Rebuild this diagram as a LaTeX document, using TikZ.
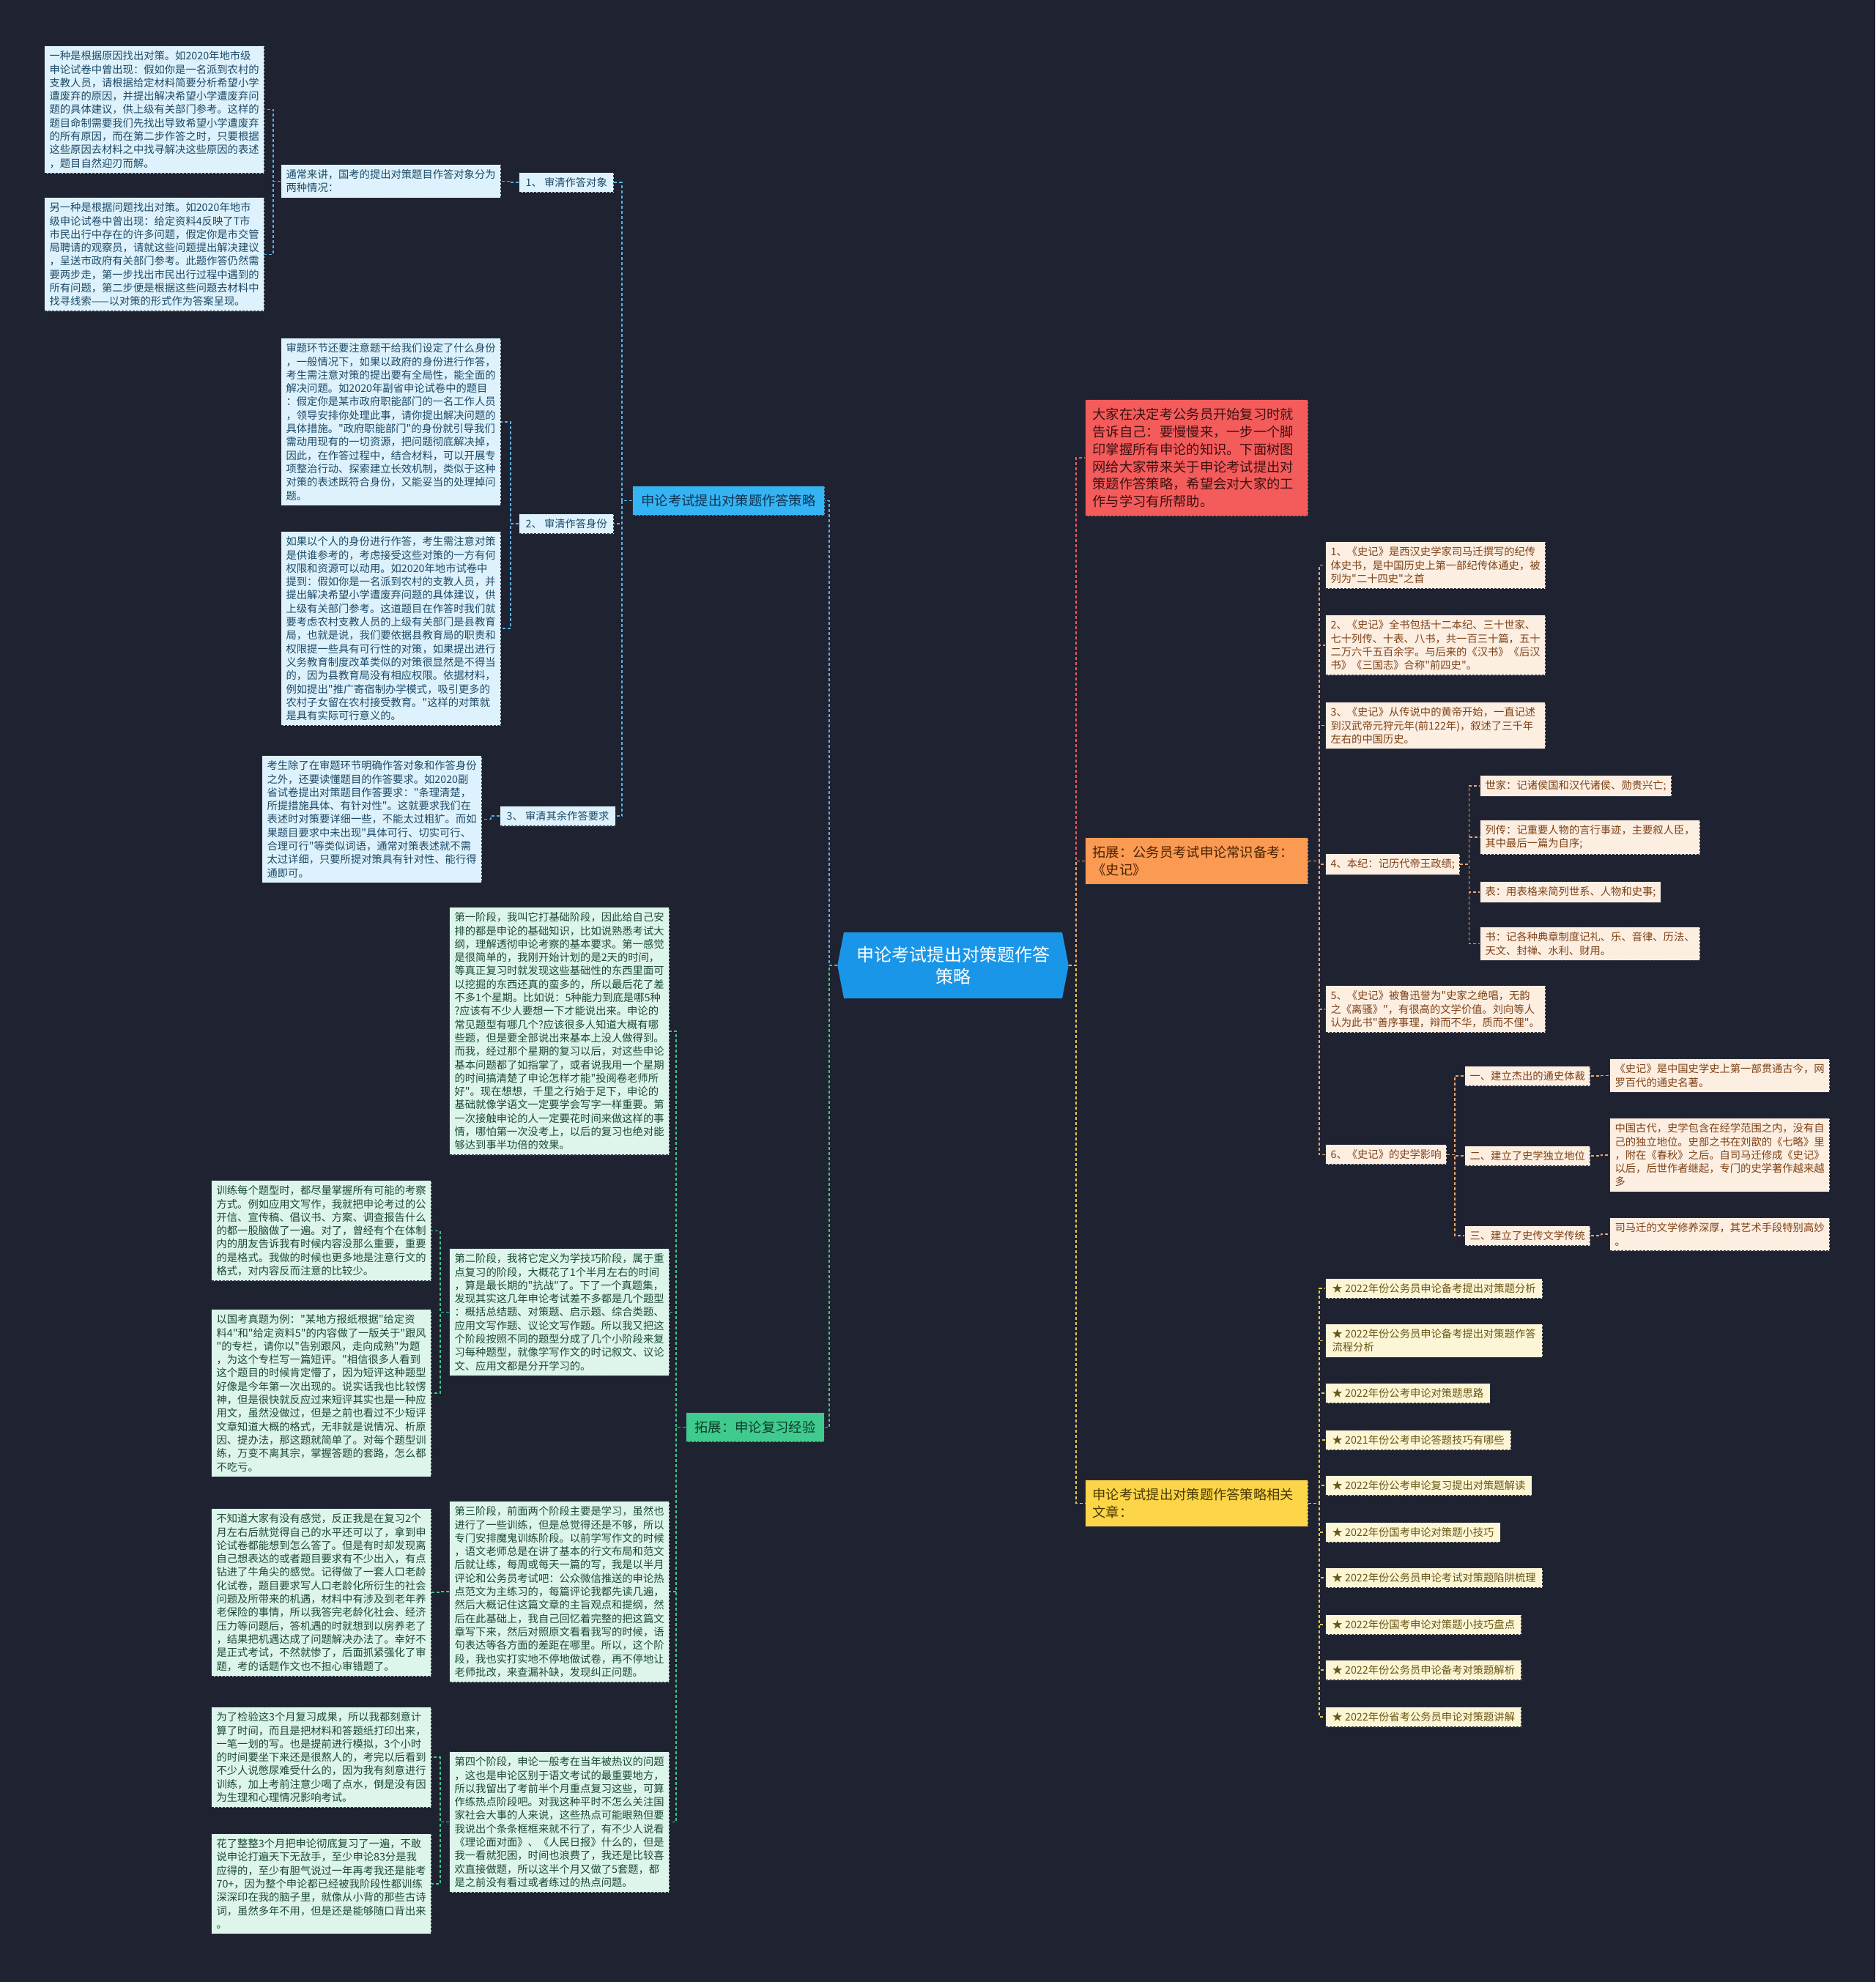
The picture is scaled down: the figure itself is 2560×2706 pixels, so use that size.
\documentclass[tikz,border=0pt]{standalone}
\usepackage{fontspec}
\setmainfont{Noto Sans CJK SC}[Ligatures=TeXOff]
\usetikzlibrary{shapes.symbols}
\definecolor{bg}{HTML}{1F2230}
\definecolor{bd}{HTML}{2B3240}
\definecolor{cfill}{HTML}{1A96E9}
\definecolor{bfill}{HTML}{35B4F4}\definecolor{btext}{HTML}{10324F}
\definecolor{gfill}{HTML}{3FCB8E}\definecolor{gtext}{HTML}{0D3B27}
\definecolor{rfill}{HTML}{F45C5C}\definecolor{rtext}{HTML}{3D1010}
\definecolor{ofill}{HTML}{FB9A52}\definecolor{otext}{HTML}{4A2300}
\definecolor{yfill}{HTML}{FCD548}\definecolor{ytext}{HTML}{4A3A00}
\definecolor{lbfill}{HTML}{DDF2FC}\definecolor{lbtext}{HTML}{1E4A68}
\definecolor{lgfill}{HTML}{DDF5EB}\definecolor{lgtext}{HTML}{1C4A34}
\definecolor{lofill}{HTML}{FDEEE2}\definecolor{lotext}{HTML}{7E4216}
\definecolor{lyfill}{HTML}{FDF6D6}\definecolor{lytext}{HTML}{6A5716}
\definecolor{blc}{HTML}{58B2E8}\definecolor{glc}{HTML}{3DC68A}
\definecolor{olc}{HTML}{F0A46C}\definecolor{ylc}{HTML}{E7C94A}
\definecolor{rlc}{HTML}{EA5C5C}
\tikzset{
  boxbase/.style={draw=bd, dash pattern=on 3pt off 2pt, line width=1.2pt,
    inner xsep=7pt, inner ysep=7pt, anchor=north west, align=left,
    font=\fontsize{14.3}{18.3}\selectfont},
  lb/.style={boxbase, fill=lbfill, text=lbtext},
  lg/.style={boxbase, fill=lgfill, text=lgtext},
  lo/.style={boxbase, fill=lofill, text=lotext},
  ly/.style={boxbase, fill=lyfill, text=lytext, inner xsep=9pt},
  wide/.style={text width=286pt},
  lab/.style={inner xsep=9pt},
  branchbase/.style={draw=bd, dash pattern=on 3pt off 2pt, line width=1.2pt,
    anchor=north west, align=left, inner xsep=12pt, inner ysep=11.5pt,
    font=\fontsize{18.3}{23.8}\selectfont},
  bbr/.style={branchbase, fill=bfill, text=btext},
  gbr/.style={branchbase, fill=gfill, text=gtext},
  rbr/.style={branchbase, fill=rfill, text=rtext, inner xsep=10pt, text width=284pt},
  obr/.style={branchbase, fill=ofill, text=otext, inner xsep=10pt, text width=284pt},
  ybr/.style={branchbase, fill=yfill, text=ytext, inner xsep=10pt, text width=284pt},
  cnode/.style={signal, signal to=west and east, signal pointer angle=158,
    fill=cfill, text=white, align=center, inner xsep=17pt, inner ysep=19pt,
    font=\fontsize{24}{30}\selectfont},
  conn/.style={dash pattern=on 4pt off 3pt, line width=1.6pt},
  bl/.style={conn, draw=blc}, gl/.style={conn, draw=glc},
  ol/.style={conn, draw=olc}, yl/.style={conn, draw=ylc}, rl/.style={conn, draw=rlc}
}
\begin{document}
\begin{tikzpicture}[x=1pt,y=-1pt]
\fill[bg] (0,0) rectangle (2560,2706);
\useasboundingbox (0,0) rectangle (2560,2706);

% centre
\node[cnode] (c) at (1301,1318) {申论考试提出对策题作答\\策略};

% ---------- left branch 1 ----------
\node[bbr] (b1) at (863,663) {申论考试提出对策题作答策略};
\node[lb,lab] (n1) at (708,235) {1、 审清作答对象};
\node[lb,lab] (n2) at (708,701) {2、 审清作答身份};
\node[lb,lab] (n3) at (682,1100) {3、 审清其余作答要求};
\node[lb,wide] (tc) at (383,224) {通常来讲，国考的提出对策题目作答对象分为\\两种情况：};
\node[lb,wide] (t1a) at (60,62) {一种是根据原因找出对策。如2020年地市级\\申论试卷中曾出现：假如你是一名派到农村的\\支教人员，请根据给定材料简要分析希望小学\\遭废弃的原因，并提出解决希望小学遭废弃问\\题的具体建议，供上级有关部门参考。这样的\\题目命制需要我们先找出导致希望小学遭废弃\\的所有原因，而在第二步作答之时，只要根据\\这些原因去材料之中找寻解决这些原因的表述\\，题目自然迎刃而解。};
\node[lb,wide] (t1b) at (60,269) {另一种是根据问题找出对策。如2020年地市\\级申论试卷中曾出现：给定资料4反映了T市\\市民出行中存在的许多问题，假定你是市交管\\局聘请的观察员，请就这些问题提出解决建议\\，呈送市政府有关部门参考。此题作答仍然需\\要两步走，第一步找出市民出行过程中遇到的\\所有问题，第二步便是根据这些问题去材料中\\找寻线索——以对策的形式作为答案呈现。};
\node[lb,wide] (t2a) at (383,461) {审题环节还要注意题干给我们设定了什么身份\\，一般情况下，如果以政府的身份进行作答，\\考生需注意对策的提出要有全局性，能全面的\\解决问题。如2020年副省申论试卷中的题目\\：假定你是某市政府职能部门的一名工作人员\\，领导安排你处理此事，请你提出解决问题的\\具体措施。"政府职能部门"的身份就引导我们\\需动用现有的一切资源，把问题彻底解决掉，\\因此，在作答过程中，结合材料，可以开展专\\项整治行动、探索建立长效机制，类似于这种\\对策的表述既符合身份，又能妥当的处理掉问\\题。};
\node[lb,wide] (t2b) at (383,725) {如果以个人的身份进行作答，考生需注意对策\\是供谁参考的，考虑接受这些对策的一方有何\\权限和资源可以动用。如2020年地市试卷中\\提到：假如你是一名派到农村的支教人员，并\\提出解决希望小学遭废弃问题的具体建议，供\\上级有关部门参考。这道题目在作答时我们就\\要考虑农村支教人员的上级有关部门是县教育\\局，也就是说，我们要依据县教育局的职责和\\权限提一些具有可行性的对策，如果提出进行\\义务教育制度改革类似的对策很显然是不得当\\的，因为县教育局没有相应权限。依据材料，\\例如提出"推广寄宿制办学模式，吸引更多的\\农村子女留在农村接受教育。"这样的对策就\\是具有实际可行意义的。};
\node[lb,wide] (t3a) at (357,1031) {考生除了在审题环节明确作答对象和作答身份\\之外，还要读懂题目的作答要求。如2020副\\省试卷提出对策题目作答要求："条理清楚，\\所提措施具体、有针对性"。这就要求我们在\\表述时对策要详细一些，不能太过粗犷。而如\\果题目要求中未出现"具体可行、切实可行、\\合理可行"等类似词语，通常对策表述就不需\\太过详细，只要所提对策具有针对性、能行得\\通即可。};

% ---------- left branch 2 ----------
\node[gbr] (b2) at (936,1928) {拓展：申论复习经验};
\node[lg,wide] (s1) at (613,1238) {第一阶段，我叫它打基础阶段，因此给自己安\\排的都是申论的基础知识，比如说熟悉考试大\\纲，理解透彻申论考察的基本要求。第一感觉\\是很简单的，我刚开始计划的是2天的时间，\\等真正复习时就发现这些基础性的东西里面可\\以挖掘的东西还真的蛮多的，所以最后花了差\\不多1个星期。比如说：5种能力到底是哪5种\\?应该有不少人要想一下才能说出来。申论的\\常见题型有哪几个?应该很多人知道大概有哪\\些题，但是要全部说出来基本上没人做得到。\\而我，经过那个星期的复习以后，对这些申论\\基本问题都了如指掌了，或者说我用一个星期\\的时间搞清楚了申论怎样才能"投阅卷老师所\\好"。现在想想，千里之行始于足下，申论的\\基础就像学语文一定要学会写字一样重要。第\\一次接触申论的人一定要花时间来做这样的事\\情，哪怕第一次没考上，以后的复习也绝对能\\够达到事半功倍的效果。};
\node[lg,wide] (s2) at (613,1704) {第二阶段，我将它定义为学技巧阶段，属于重\\点复习的阶段，大概花了1个半月左右的时间\\，算是最长期的"抗战"了。下了一个真题集，\\发现其实这几年申论考试差不多都是几个题型\\：概括总结题、对策题、启示题、综合类题、\\应用文写作题、议论文写作题。所以我又把这\\个阶段按照不同的题型分成了几个小阶段来复\\习每种题型，就像学写作文的时记叙文、议论\\文、应用文都是分开学习的。};
\node[lg,wide] (s2a) at (288,1611) {训练每个题型时，都尽量掌握所有可能的考察\\方式。例如应用文写作，我就把申论考过的公\\开信、宣传稿、倡议书、方案、调查报告什么\\的都一股脑做了一遍。对了，曾经有个在体制\\内的朋友告诉我有时候内容没那么重要，重要\\的是格式。我做的时候也更多地是注意行文的\\格式，对内容反而注意的比较少。};
\node[lg,wide] (s2b) at (288,1787) {以国考真题为例："某地方报纸根据"给定资\\料4"和"给定资料5"的内容做了一版关于"跟风\\"的专栏，请你以"告别跟风，走向成熟"为题\\，为这个专栏写一篇短评。"相信很多人看到\\这个题目的时候肯定懵了，因为短评这种题型\\好像是今年第一次出现的。说实话我也比较愣\\神，但是很快就反应过来短评其实也是一种应\\用文，虽然没做过，但是之前也看过不少短评\\文章知道大概的格式，无非就是说情况、析原\\因、提办法，那这题就简单了。对每个题型训\\练，万变不离其宗，掌握答题的套路，怎么都\\不吃亏。};
\node[lg,wide] (s3) at (613,2049) {第三阶段，前面两个阶段主要是学习，虽然也\\进行了一些训练，但是总觉得还是不够，所以\\专门安排魔鬼训练阶段。以前学写作文的时候\\，语文老师总是在讲了基本的行文布局和范文\\后就让练，每周或每天一篇的写，我是以半月\\评论和公务员考试吧：公众微信推送的申论热\\点范文为主练习的，每篇评论我都先读几遍，\\然后大概记住这篇文章的主旨观点和提纲，然\\后在此基础上，我自己回忆着完整的把这篇文\\章写下来，然后对照原文看看我写的时候，语\\句表达等各方面的差距在哪里。所以，这个阶\\段，我也实打实地不停地做试卷，再不停地让\\老师批改，来查漏补缺，发现纠正问题。};
\node[lg,wide] (s3a) at (288,2059) {不知道大家有没有感觉，反正我是在复习2个\\月左右后就觉得自己的水平还可以了，拿到申\\论试卷都能想到怎么答了。但是有时却发现离\\自己想表达的或者题目要求有不少出入，有点\\钻进了牛角尖的感觉。记得做了一套人口老龄\\化试卷，题目要求写人口老龄化所衍生的社会\\问题及所带来的机遇，材料中有涉及到老年养\\老保险的事情，所以我答完老龄化社会、经济\\压力等问题后，答机遇的时就想到以房养老了\\，结果把机遇达成了问题解决办法了。幸好不\\是正式考试，不然就惨了，后面抓紧强化了审\\题，考的话题作文也不担心审错题了。};
\node[lg,wide] (s4) at (613,2391) {第四个阶段，申论一般考在当年被热议的问题\\，这也是申论区别于语文考试的最重要地方，\\所以我留出了考前半个月重点复习这些，可算\\作练热点阶段吧。对我这种平时不怎么关注国\\家社会大事的人来说，这些热点可能眼熟但要\\我说出个条条框框来就不行了，有不少人说看\\《理论面对面》、《人民日报》什么的，但是\\我一看就犯困，时间也浪费了，我还是比较喜\\欢直接做题，所以这半个月又做了5套题，都\\是之前没有看过或者练过的热点问题。};
\node[lg,wide] (s4a) at (288,2330) {为了检验这3个月复习成果，所以我都刻意计\\算了时间，而且是把材料和答题纸打印出来，\\一笔一划的写。也是提前进行模拟，3个小时\\的时间要坐下来还是很熬人的，考完以后看到\\不少人说憋尿难受什么的，因为我有刻意进行\\训练，加上考前注意少喝了点水，倒是没有因\\为生理和心理情况影响考试。};
\node[lg,wide] (s4b) at (288,2503) {花了整整3个月把申论彻底复习了一遍，不敢\\说申论打遍天下无敌手，至少申论83分是我\\应得的，至少有胆气说过一年再考我还是能考\\70+，因为整个申论都已经被我阶段性都训练\\深深印在我的脑子里，就像从小背的那些古诗\\词，虽然多年不用，但是还是能够随口背出来\\。};

% ---------- right branches ----------
\node[rbr] (red) at (1481,545) {大家在决定考公务员开始复习时就\\告诉自己：要慢慢来，一步一个脚\\印掌握所有申论的知识。下面树图\\网给大家带来关于申论考试提出对\\策题作答策略，希望会对大家的工\\作与学习有所帮助。};
\node[obr] (ob) at (1481,1143) {拓展：公务员考试申论常识备考：\\《史记》};
\node[ybr] (yb) at (1481,2020) {申论考试提出对策题作答策略相关\\文章：};

\node[lo,wide] (o1) at (1809,739) {1、《史记》是西汉史学家司马迁撰写的纪传\\体史书，是中国历史上第一部纪传体通史，被\\列为"二十四史"之首};
\node[lo,wide] (o2) at (1809,839) {2、《史记》全书包括十二本纪、三十世家、\\七十列传、十表、八书，共一百三十篇，五十\\二万六千五百余字。与后来的《汉书》《后汉\\书》《三国志》合称"前四史"。};
\node[lo,wide] (o3) at (1809,958) {3、《史记》从传说中的黄帝开始，一直记述\\到汉武帝元狩元年(前122年)，叙述了三千年\\左右的中国历史。};
\node[lo] (o4) at (1809,1165) {4、本纪：记历代帝王政绩;};
\node[lo] (o41) at (2020,1058) {世家：记诸侯国和汉代诸侯、勋贵兴亡;};
\node[lo,wide] (o42) at (2020,1119) {列传：记重要人物的言行事迹，主要叙人臣，\\其中最后一篇为自序;};
\node[lo] (o43) at (2020,1203) {表：用表格来简列世系、人物和史事;};
\node[lo,wide] (o44) at (2020,1265) {书：记各种典章制度记礼、乐、音律、历法、\\天文、封禅、水利、财用。};
\node[lo,wide] (o5) at (1809,1345) {5、《史记》被鲁迅誉为"史家之绝唱，无韵\\之《离骚》"，有很高的文学价值。刘向等人\\认为此书"善序事理，辩而不华，质而不俚"。};
\node[lo] (o6) at (1809,1562) {6、《史记》的史学影响};
\node[lo] (o61) at (1999,1455) {一、建立杰出的通史体裁};
\node[lo] (o62) at (1999,1564) {二、建立了史学独立地位};
\node[lo] (o63) at (1999,1673) {三、建立了史传文学传统};
\node[lo,wide] (o61c) at (2197,1445) {《史记》是中国史学史上第一部贯通古今，网\\罗百代的通史名著。};
\node[lo,wide] (o62c) at (2197,1526) {中国古代，史学包含在经学范围之内，没有自\\己的独立地位。史部之书在刘歆的《七略》里\\，附在《春秋》之后。自司马迁修成《史记》\\以后，后世作者继起，专门的史学著作越来越\\多};
\node[lo,wide] (o63c) at (2197,1662) {司马迁的文学修养深厚，其艺术手段特别高妙\\。};

\node[ly] (y1) at (1809,1745) {★ 2022年份公务员申论备考提出对策题分析};
\node[ly] (y2) at (1809,1807) {★ 2022年份公务员申论备考提出对策题作答\\流程分析};
\node[ly] (y3) at (1809,1888) {★ 2022年份公考申论对策题思路};
\node[ly] (y4) at (1809,1952) {★ 2021年份公考申论答题技巧有哪些};
\node[ly] (y5) at (1809,2014) {★ 2022年份公考申论复习提出对策题解读};
\node[ly] (y6) at (1809,2078) {★ 2022年份国考申论对策题小技巧};
\node[ly] (y7) at (1809,2140) {★ 2022年份公务员申论考试对策题陷阱梳理};
\node[ly] (y8) at (1809,2204) {★ 2022年份国考申论对策题小技巧盘点};
\node[ly] (y9) at (1809,2266) {★ 2022年份公务员申论备考对策题解析};
\node[ly] (y10) at (1809,2330) {★ 2022年份省考公务员申论对策题讲解};

% ---------- connectors ----------
\draw[bl] (c.west) -- ++(-11,0) |- (b1.east);
\draw[gl] (c.west) -- ++(-11,0) |- (b2.east);
\foreach \q in {n1,n2,n3} \draw[bl] (b1.west) -- ++(-14,0) |- (\q.east);
\draw[bl] (n1.west) -- ++(-11,0) |- (tc.east);
\foreach \q in {t1a,t1b} \draw[bl] (tc.west) -- ++(-10,0) |- (\q.east);
\foreach \q in {t2a,t2b} \draw[bl] (n2.west) -- ++(-11,0) |- (\q.east);
\draw[bl] (n3.west) -- ++(-12,0) |- (t3a.east);
\foreach \q in {s1,s2,s3,s4} \draw[gl] (b2.west) -- ++(-13,0) |- (\q.east);
\foreach \q in {s2a,s2b} \draw[gl] (s2.west) -- ++(-12,0) |- (\q.east);
\draw[gl] (s3.west) -- ++(-12,0) |- (s3a.east);
\foreach \q in {s4a,s4b} \draw[gl] (s4.west) -- ++(-12,0) |- (\q.east);

\draw[rl] (c.east) -- ++(10,0) |- (red.west);
\draw[ol] (c.east) -- ++(10,0) |- (ob.west);
\draw[yl] (c.east) -- ++(10,0) |- (yb.west);
\foreach \q in {o1,o2,o3,o4,o5,o6} \draw[ol] (ob.east) -- ++(15,0) |- (\q.west);
\foreach \q in {o41,o42,o43,o44} \draw[ol] (o4.east) -- ++(12,0) |- (\q.west);
\foreach \q in {o61,o62,o63} \draw[ol] (o6.east) -- ++(11,0) |- (\q.west);
\draw[ol] (o61.east) -- ++(14,0) |- (o61c.west);
\draw[ol] (o62.east) -- ++(14,0) |- (o62c.west);
\draw[ol] (o63.east) -- ++(14,0) |- (o63c.west);
\foreach \q in {y1,y2,y3,y4,y5,y6,y7,y8,y9,y10} \draw[yl] (yb.east) -- ++(15,0) |- (\q.west);
\end{tikzpicture}
\end{document}
